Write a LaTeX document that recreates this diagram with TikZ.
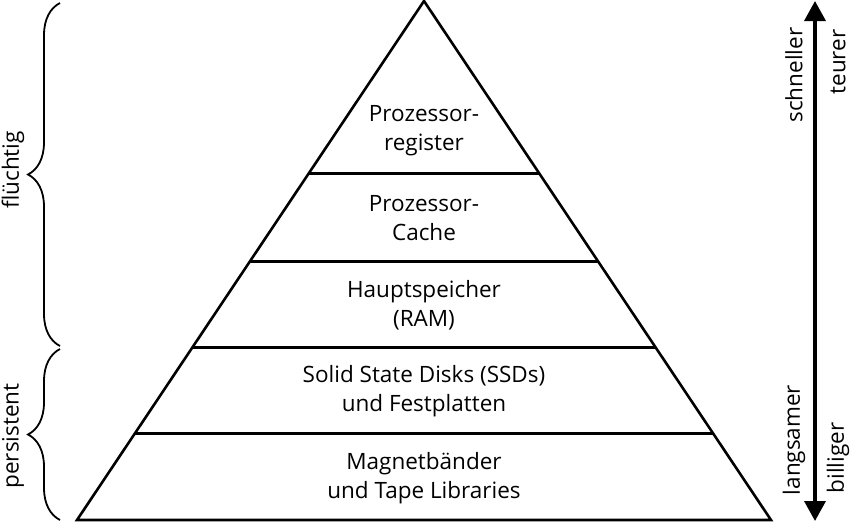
\documentclass[tikz,border=0pt]{standalone}
\usepackage{fontspec}
\setmainfont{Open Sans}
\usetikzlibrary{decorations.pathreplacing,arrows.meta,calc}
\begin{document}
\begin{tikzpicture}[x=1pt,y=-1pt,
  edge/.style={line width=2.6pt,line join=miter},
  sep/.style={line width=3pt},
  lbl/.style={font=\fontsize{22.5}{29}\selectfont,align=center,inner sep=0pt},
  side/.style={font=\fontsize{22.5}{26}\selectfont,rotate=90,inner sep=0pt},
  brace/.style={decorate,decoration={brace,amplitude=32pt},line width=1.8pt}]
\useasboundingbox (0,0) rectangle (852,523);
% triangle
\coordinate (apex) at (424,1);
\coordinate (bl) at (77,520);
\coordinate (br) at (771,520);
\draw[edge] (bl) -- (apex) -- (br) -- cycle;
% separators
\foreach \y/\n in {173/a,261/b,347/c,433/d}{
  \coordinate (L\n) at ($(apex)!{(\y-1)/519}!(bl)$);
  \coordinate (R\n) at ($(apex)!{(\y-1)/519}!(br)$);
  \draw[sep] (L\n) -- (R\n);
}
% labels
\node[lbl] (t1) at (424,131) {Prozessor-\\register};
\node[lbl] (t2) at (424,218) {Prozessor-\\Cache};
\node[lbl] (t3) at (424,305) {Hauptspeicher\\(RAM)};
\node[lbl] (t4) at (424,391) {Solid State Disks (SSDs)\\und Festplatten};
\node[lbl] (t5) at (424,478) {Magnetbänder\\und Tape Libraries};
% braces
\coordinate (b1t) at (60,3);
\coordinate (b1b) at (60,346);
\coordinate (b2t) at (60,349);
\coordinate (b2b) at (60,520);
\draw[brace] (b1b) -- (b1t);
\draw[brace] (b2b) -- (b2t);
\node[side] (fl) at (13,170) {flüchtig};
\node[side] (pe) at (13,436) {persistent};
% arrow
\coordinate (at) at (815,1);
\coordinate (ab) at (815,521);
\draw[line width=3.5pt,{Triangle[width=21pt,length=20pt]}-{Triangle[width=21pt,length=20pt]}] (at) -- (ab);
\node[side] (s1) at (794,75) {schneller};
\node[side] (s2) at (838,62) {teurer};
\node[side] (s3) at (794,440) {langsamer};
\node[side] (s4) at (838,458) {billiger};
\end{tikzpicture}
\end{document}
